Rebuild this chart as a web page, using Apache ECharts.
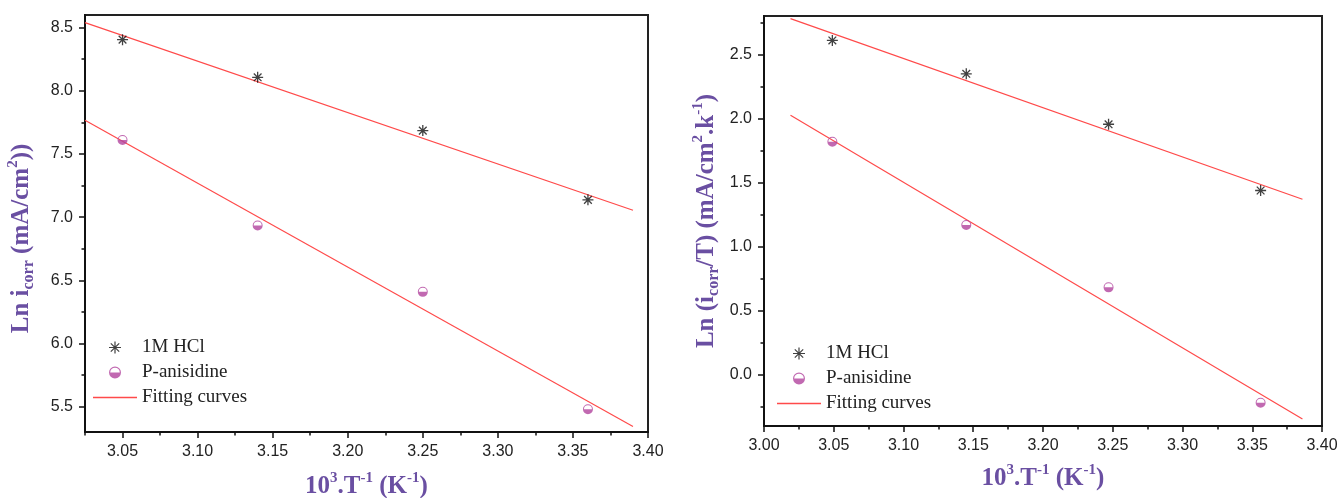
<!DOCTYPE html>
<html>
<head>
<meta charset="utf-8">
<script src="https://cdn.jsdelivr.net/npm/echarts@6/dist/echarts.min.js"></script>
<style>
html,body{margin:0;padding:0;background:#fff;}
#c{width:1339px;height:498px;}
</style>
</head>
<body>
<div id="c"></div>
<script>
// ---- Left chart data (Ln icorr vs 1000/T) ----
var xLeft = [3.05, 3.14, 3.25, 3.36];
var hclLeft = [8.405, 8.107, 7.685, 7.137];
var aniLeft = [7.611, 6.934, 6.409, 5.480];
var fitXLeft = [3.025, 3.390];
var fitHclLeft = [8.54, 7.055];
var fitAniLeft = [7.767, 5.343];
var xTicksLeft = [3.05, 3.10, 3.15, 3.20, 3.25, 3.30, 3.35, 3.40];
var xMinorLeft = [3.025, 3.075, 3.125, 3.175, 3.225, 3.275, 3.325, 3.375];
var yTicksLeft = [5.5, 6.0, 6.5, 7.0, 7.5, 8.0, 8.5];
var yMinorLeft = [5.75, 6.25, 6.75, 7.25, 7.75, 8.25];

// ---- Right chart data (Ln(icorr/T) vs 1000/T) ----
var xRight = [3.049, 3.145, 3.247, 3.356];
var hclRight = [2.609, 2.349, 1.955, 1.438];
var aniRight = [1.818, 1.169, 0.682, -0.219];
var fitXRight = [3.019, 3.386];
var fitHclRight = [2.779, 1.370];
var fitAniRight = [2.026, -0.346];
var xTicksRight = [3.00, 3.05, 3.10, 3.15, 3.20, 3.25, 3.30, 3.35, 3.40];
var xMinorRight = [3.025, 3.075, 3.125, 3.175, 3.225, 3.275, 3.325, 3.375];
var yTicksRight = [0.0, 0.5, 1.0, 1.5, 2.0, 2.5];
var yMinorRight = [-0.25, 0.25, 0.75, 1.25, 1.75, 2.25, 2.75];

var seriesNames = ['1M HCl', 'P-anisidine', 'Fitting curves'];

var PURPLE = '#6a4fa2';
var MAGENTA = '#b2449d';
var RED = '#ff4a4a';
var STAR = 'path://M5 0L5 10M0 5L10 5M1.5 1.5L8.5 8.5M8.5 1.5L1.5 8.5';
var HALF = 'path://M0 5A5 5 0 1 1 10 5A5 5 0 1 1 0 5ZM1 5A4 4 0 1 0 9 5A4 4 0 1 0 1 5ZM1 5L9 5A4 4 0 0 1 1 5Z';
var BAR = 'path://M0 0L44 0L44 1.3L0 1.3Z';

var titleRich = {
  b: {fontFamily: 'Liberation Serif', fontWeight: 'bold', fontSize: 25, lineHeight: 31, color: PURPLE},
  s: {fontFamily: 'Liberation Serif', fontWeight: 'bold', fontSize: 16, lineHeight: 16, verticalAlign: 'bottom', color: PURPLE},
  p: {fontFamily: 'Liberation Serif', fontWeight: 'bold', fontSize: 15, lineHeight: 15, verticalAlign: 'top', color: PURPLE}
};

function pairs(xs, ys) { return xs.map(function (x, i) { return [x, ys[i]]; }); }

function mainX(grid, min, max, ticks, name, gap) {
  return {
    type: 'value', gridIndex: grid, min: min, max: max, position: 'bottom',
    name: name, nameLocation: 'middle', nameGap: gap, nameTextStyle: {rich: titleRich},
    axisLine: {show: true, onZero: false, lineStyle: {color: '#111', width: 2}},
    axisTick: {show: true, inside: false, length: 6, customValues: ticks, lineStyle: {color: '#111', width: 1.5}},
    axisLabel: {show: true, customValues: ticks, margin: 12, fontFamily: 'Liberation Sans', fontSize: 16, color: '#222',
      formatter: function (v) { return v.toFixed(2); }},
    splitLine: {show: false}
  };
}
function minorX(grid, min, max, ticks) {
  return {
    type: 'value', gridIndex: grid, min: min, max: max, position: 'bottom',
    axisLine: {show: false, onZero: false},
    axisTick: {show: true, inside: false, length: 3.5, customValues: ticks, lineStyle: {color: '#111', width: 1.5}},
    axisLabel: {show: false}, splitLine: {show: false}
  };
}
function mainY(grid, min, max, ticks, name, gap, pad) {
  return {
    type: 'value', gridIndex: grid, min: min, max: max, position: 'left',
    name: name, nameLocation: 'middle', nameGap: gap, nameRotate: 90, nameTextStyle: {rich: titleRich, padding: pad},
    axisLine: {show: true, onZero: false, lineStyle: {color: '#111', width: 2}},
    axisTick: {show: true, inside: false, length: 6, customValues: ticks, lineStyle: {color: '#111', width: 1.5}},
    axisLabel: {show: true, customValues: ticks, margin: 12, fontFamily: 'Liberation Sans', fontSize: 16, color: '#222',
      formatter: function (v) { return v.toFixed(1); }},
    splitLine: {show: false}
  };
}
function minorY(grid, min, max, ticks) {
  return {
    type: 'value', gridIndex: grid, min: min, max: max, position: 'left',
    axisLine: {show: false, onZero: false},
    axisTick: {show: true, inside: false, length: 3.5, customValues: ticks, lineStyle: {color: '#111', width: 1.5}},
    axisLabel: {show: false}, splitLine: {show: false}
  };
}

function scatterHcl(name, xi, yi, data) {
  return {type: 'scatter', name: name, xAxisIndex: xi, yAxisIndex: yi, data: data, symbol: STAR, symbolSize: 11, z: 5,
    itemStyle: {color: 'rgba(0,0,0,0)', borderColor: '#111', borderWidth: 1.3}};
}
function scatterAni(name, xi, yi, data) {
  return {type: 'scatter', name: name, xAxisIndex: xi, yAxisIndex: yi, data: data, symbol: HALF, symbolSize: 10, z: 5,
    itemStyle: {color: MAGENTA, borderWidth: 0}};
}
function fitLine(name, xi, yi, data) {
  return {type: 'line', name: name, xAxisIndex: xi, yAxisIndex: yi, data: data, symbol: 'none', showSymbol: false, z: 2,
    lineStyle: {color: RED, width: 1.2}, itemStyle: {color: RED}};
}

function legendAt(left, top) {
  return {
    orient: 'vertical', left: left, top: top, itemWidth: 44, itemHeight: 12, itemGap: 6, padding: 0,
    textStyle: {fontFamily: 'Liberation Serif', fontSize: 19, color: '#222'},
    selectedMode: false,
    data: [
      {name: seriesNames[0], icon: STAR, itemStyle: {color: 'rgba(0,0,0,0)', borderColor: '#111', borderWidth: 1.2}},
      {name: seriesNames[1], icon: HALF, itemStyle: {color: MAGENTA, borderWidth: 0}},
      {name: seriesNames[2], icon: BAR, itemStyle: {color: RED, borderWidth: 0}}
    ]
  };
}

var xTitle = '{b|10}{p|3}{b|.T}{p|-1}{b| (K}{p|-1}{b|)}';
var yTitleLeft = '{b|Ln i}{s|corr}{b| (mA/cm}{p|2}{b|))}';
var yTitleRight = '{b|Ln (i}{s|corr}{b|/T) (mA/cm}{p|2}{b|.k}{p|-1}{b|)}';

var option = {
  animation: false,
  backgroundColor: '#fff',
  grid: [
    {left: 85, top: 15, width: 563, height: 417, show: true, borderColor: '#222', borderWidth: 2, backgroundColor: 'transparent', outerBoundsMode: 'none', containLabel: false},
    {left: 764, top: 16, width: 558, height: 410, show: true, borderColor: '#222', borderWidth: 2, backgroundColor: 'transparent', outerBoundsMode: 'none', containLabel: false}
  ],
  legend: [legendAt(93, 338), legendAt(777, 344)],
  xAxis: [
    mainX(0, 3.025, 3.40, xTicksLeft, xTitle, 39),
    minorX(0, 3.025, 3.40, xMinorLeft),
    mainX(1, 3.00, 3.40, xTicksRight, xTitle, 37),
    minorX(1, 3.00, 3.40, xMinorRight)
  ],
  yAxis: [
    mainY(0, 5.3, 8.6, yTicksLeft, yTitleLeft, 48, [0, 30, 0, 0]),
    minorY(0, 5.3, 8.6, yMinorLeft),
    mainY(1, -0.4, 2.8, yTicksRight, yTitleRight, 42, [0, 0, 0, 0]),
    minorY(1, -0.4, 2.8, yMinorRight)
  ],
  series: [
    fitLine(seriesNames[2], 0, 0, pairs(fitXLeft, fitHclLeft)),
    fitLine(seriesNames[2], 0, 0, pairs(fitXLeft, fitAniLeft)),
    scatterHcl(seriesNames[0], 0, 0, pairs(xLeft, hclLeft)),
    scatterAni(seriesNames[1], 0, 0, pairs(xLeft, aniLeft)),
    fitLine(seriesNames[2], 2, 2, pairs(fitXRight, fitHclRight)),
    fitLine(seriesNames[2], 2, 2, pairs(fitXRight, fitAniRight)),
    scatterHcl(seriesNames[0], 2, 2, pairs(xRight, hclRight)),
    scatterAni(seriesNames[1], 2, 2, pairs(xRight, aniRight))
  ]
};

var chart = echarts.init(document.getElementById('c'), null, {renderer: 'canvas'});
chart.setOption(option);
</script>
</body>
</html>
